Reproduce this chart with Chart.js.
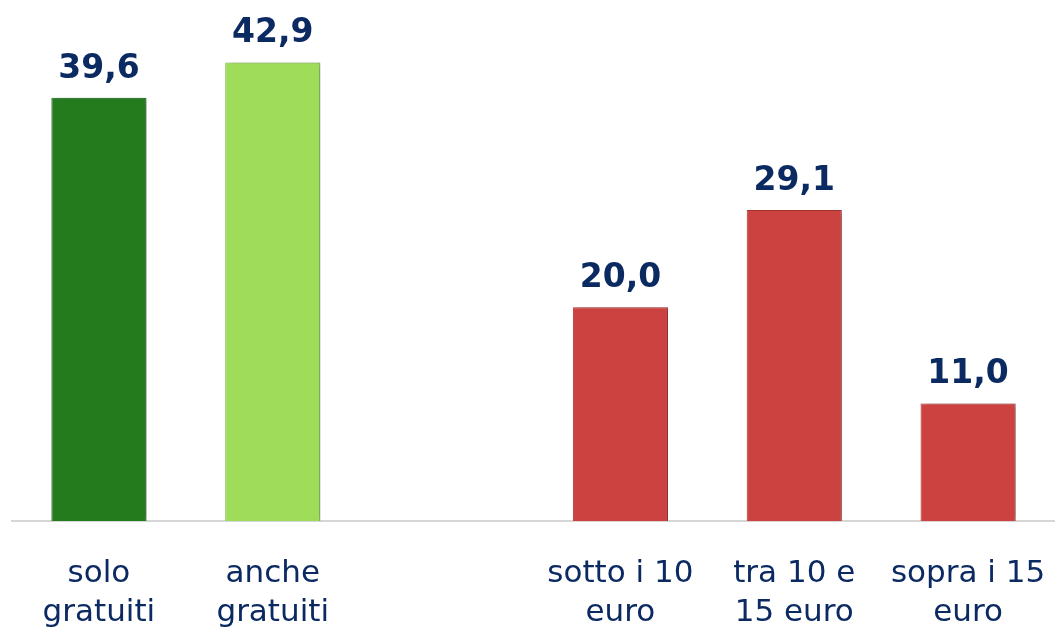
<!DOCTYPE html>
<html>
<head>
<meta charset="utf-8">
<script src="https://cdn.jsdelivr.net/npm/chart.js@4/dist/chart.umd.min.js"></script>
<style>
    html, body { margin: 0; padding: 0; background: #ffffff; }
    #wrap { width: 1055px; height: 633px; }
</style>
</head>
<body>
<div id="wrap"><canvas id="myChart" width="1055" height="633"></canvas></div>
<script>
// categorie (la terza è vuota, fa da separatore tra i due gruppi)
const categories = [
    ['solo', 'gratuiti'],
    ['anche', 'gratuiti'],
    '',
    ['sotto i 10', 'euro'],
    ['tra 10 e', '15 euro'],
    ['sopra i 15', 'euro']
];
const values = [39.6, 42.9, null, 20.0, 29.1, 11.0];
const barColors = ['#237b1d', '#9edc59', '#ffffff', '#cc4240', '#cc4240', '#cc4240'];
const borderColors = ['#1b6416', '#86c347', '#ffffff', '#b23634', '#b23634', '#b23634'];

const navy = '#0c2a62';

// etichette dei valori sopra le barre
const valueLabels = {
    id: 'valueLabels',
    afterDatasetsDraw(chart) {
        const ctx = chart.ctx;
        const meta = chart.getDatasetMeta(0);
        ctx.save();
        ctx.font = 'bold 33px "DejaVu Sans", Verdana, sans-serif';
        ctx.fillStyle = navy;
        ctx.textAlign = 'center';
        ctx.textBaseline = 'alphabetic';
        meta.data.forEach((bar, i) => {
            if (values[i] == null) return;
            const txt = values[i].toFixed(1).replace('.', ',');
            ctx.fillText(txt, bar.x, bar.y - 20);
        });
        ctx.restore();
    }
};

// ombra a destra delle barre
const barShadow = {
    id: 'barShadow',
    beforeDatasetsDraw(chart) {
        const ctx = chart.ctx;
        ctx.save();
        ctx.shadowColor = 'rgba(0, 0, 0, 0.35)';
        ctx.shadowBlur = 6;
        ctx.shadowOffsetX = 4;
        ctx.shadowOffsetY = 1;
    },
    afterDatasetsDraw(chart) {
        chart.ctx.restore();
    }
};

const ctx = document.getElementById('myChart').getContext('2d');
new Chart(ctx, {
    type: 'bar',
    data: {
        labels: categories,
        datasets: [{
            data: values,
            backgroundColor: barColors,
            borderColor: borderColors,
            borderWidth: 1,
            categoryPercentage: 1,
            barPercentage: 0.547
        }]
    },
    options: {
        responsive: false,
        animation: false,
        layout: {
            padding: { left: 12, top: 40, right: 0, bottom: 0 }
        },
        plugins: {
            legend: { display: false },
            tooltip: { enabled: false }
        },
        scales: {
            x: {
                grid: { display: false, drawTicks: false },
                border: { display: true, color: '#d6d6d6', width: 2 },
                ticks: {
                    color: navy,
                    padding: 33,
                    maxRotation: 0,
                    autoSkip: false,
                    font: { family: '"DejaVu Sans", Verdana, sans-serif', size: 31, lineHeight: 1.26 }
                },
                afterFit(scale) {
                    scale.height = 112;
                    scale.paddingLeft = 0;
                    scale.paddingRight = 0;
                }
            },
            y: {
                display: false,
                min: 0,
                max: 45
            }
        }
    },
    plugins: [barShadow, valueLabels]
});
</script>
</body>
</html>
